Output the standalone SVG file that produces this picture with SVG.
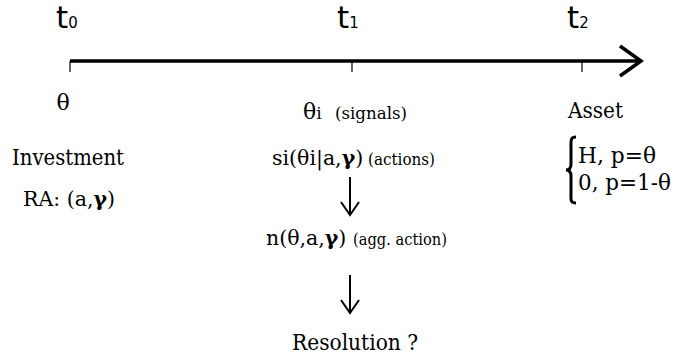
<svg xmlns="http://www.w3.org/2000/svg" width="678" height="363" viewBox="0 0 678 363">
<style>
.t{font-family:'DejaVu Sans',sans-serif;font-size:31px;fill:#000}
.sub{font-size:15px}
.s{font-family:'DejaVu Serif',serif;font-size:22px;fill:#000}
.m{font-family:'DejaVu Serif',serif;font-size:20.5px;fill:#000}
.sm{font-family:'DejaVu Serif',serif;font-size:17px;fill:#000}
.g{font-weight:bold}
.ax{stroke:#000;stroke-width:3.5;fill:none}
.tk{stroke:#000;stroke-width:1.2}
.ar{stroke:#000;stroke-width:2;fill:none}
</style>
<g id="timeline">
<line class="ax" x1="70" y1="61" x2="641" y2="61"/>
<polyline class="ax" points="620,46 641,61 620,76"/>
<line class="tk" x1="70" y1="61" x2="70" y2="72"/>
<line class="tk" x1="352" y1="61" x2="352" y2="72"/>
<line class="tk" x1="582" y1="61" x2="582" y2="72"/>
</g>
<g id="t0"><text class="t" x="56" y="28">t<tspan class="sub">0</tspan></text></g>
<g id="t1"><text class="t" x="337" y="28">t<tspan class="sub">1</tspan></text></g>
<g id="t2"><text class="t" x="567" y="28">t<tspan class="sub">2</tspan></text></g>
<g id="col0">
<text class="s" x="63" y="110" text-anchor="middle">θ</text>
<text class="s" x="12" y="165" textLength="112" lengthAdjust="spacingAndGlyphs">Investment</text>
<text class="m" x="23" y="206">RA: (a,<tspan class="g">γ</tspan>)</text>
</g>
<g id="col1">
<text class="s" x="303" y="119">θ<tspan class="sm">i</tspan></text>
<text class="sm" x="335" y="119" textLength="72" lengthAdjust="spacingAndGlyphs">(signals)</text>
<text class="m" x="272" y="165">si(θi|a,<tspan class="g">γ</tspan>)</text>
<text class="sm" x="368" y="165" textLength="67" lengthAdjust="spacingAndGlyphs">(actions)</text>
<text class="m" x="266" y="245">n(θ,a,<tspan class="g">γ</tspan>)</text>
<text class="sm" x="353" y="245" textLength="94" lengthAdjust="spacingAndGlyphs">(agg. action)</text>
<text class="s" x="292" y="350" textLength="126" lengthAdjust="spacingAndGlyphs">Resolution ?</text>
</g>
<g id="col2">
<text class="s" x="568" y="118" textLength="55" lengthAdjust="spacingAndGlyphs">Asset</text>
<path d="M576,137 C570,137 571,141 571,149 L571,164 C571,168 569,170 566,170 C569,170 571,172 571,176 L571,192 C571,200 570,203 576,203" fill="none" stroke="#000" stroke-width="3"/>
<text class="s" x="578" y="163" textLength="78" lengthAdjust="spacingAndGlyphs">H, p=θ</text>
<text class="s" x="578" y="190" textLength="93" lengthAdjust="spacingAndGlyphs">0, p=1-θ</text>
</g>
<g id="connectors">
<path class="ar" d="M350,177 V214 M341,202 L350,215 L359,202"/>
<path class="ar" d="M350,275 V312 M341,300 L350,313 L359,300"/>
</g>
</svg>
